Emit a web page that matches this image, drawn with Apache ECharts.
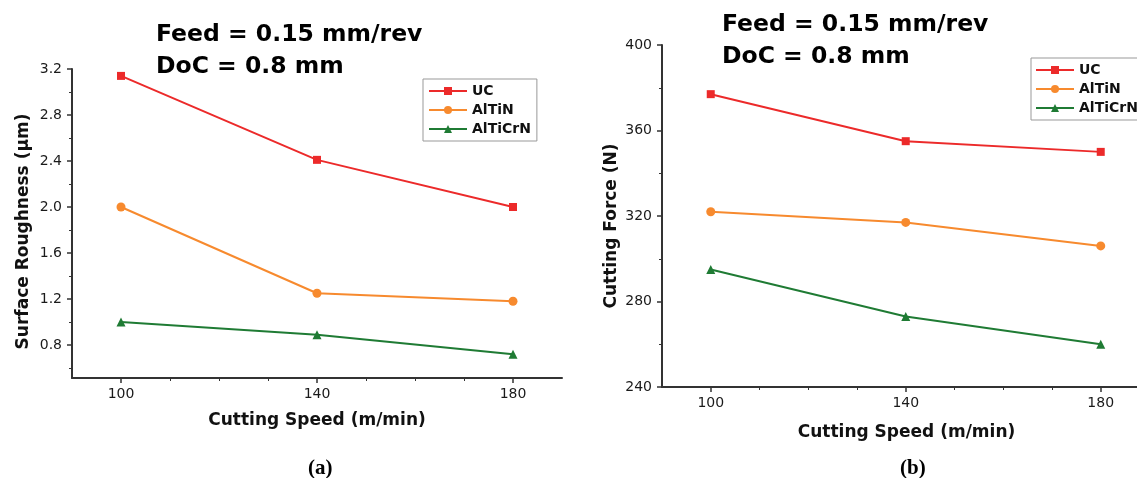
<!DOCTYPE html>
<html>
<head>
<meta charset="utf-8">
<script src="https://cdn.jsdelivr.net/npm/echarts@6/dist/echarts.min.js"></script>
<style>
html,body{margin:0;padding:0;background:#fff;overflow:hidden;}
#c{width:1137px;height:478px;}
</style>
</head>
<body>
<div id="c"></div>
<script>
// ---- data ----
const speeds = [100, 140, 180];
const seriesNames = ['UC', 'AlTiN', 'AlTiCrN'];
const raUC = [3.14, 2.41, 2.00];
const raAlTiN = [2.00, 1.25, 1.18];
const raAlTiCrN = [1.00, 0.89, 0.72];
const forceUC = [377, 355, 350];
const forceAlTiN = [322, 317, 306];
const forceAlTiCrN = [295, 273, 260];
const xMajorTicks = [100, 140, 180];
const xMinorTicks = [110, 120, 130, 150, 160, 170];
const raMajorTicks = [0.8, 1.2, 1.6, 2.0, 2.4, 2.8, 3.2];
const raMinorTicks = [0.6, 1.0, 1.4, 1.8, 2.2, 2.6, 3.0];
const forceMajorTicks = [240, 280, 320, 360, 400];
const forceMinorTicks = [260, 300, 340, 380];

const colors = ['#ec2a2a', '#f78a2e', '#1f7b34'];
const symbols = ['rect', 'circle', 'triangle'];
const symbolSizes = [8, 9, 9];

const AX = '#333333';
const labelFont = {fontFamily: 'DejaVu Sans', fontSize: 14, color: '#1a1a1a'};
const nameFont = {fontFamily: 'DejaVu Sans', fontWeight: 'bold', fontSize: 17, color: '#111'};

function pairs(vals){ return speeds.map((s,i)=>[s, vals[i]]); }

function xAxes(gridIndex, max, nameShift){
  return [
    {type:'value', gridIndex, min:90, max,
     axisLine:{show:true, lineStyle:{color:AX, width:2}},
     axisTick:{show:true, customValues:xMajorTicks, length:5, lineStyle:{color:AX, width:1.5}},
     axisLabel:{customValues:xMajorTicks, margin:9, ...labelFont},
     splitLine:{show:false},
     name:'Cutting Speed (m/min)', nameLocation:'middle', nameGap: gridIndex===0 ? 34 : 37,
     nameTextStyle:Object.assign({}, nameFont, {padding:[0, 0, 0, nameShift]})},
    {type:'value', gridIndex, min:90, max, position:'bottom',
     axisLine:{show:false},
     axisTick:{show:true, customValues:xMinorTicks, length:3, lineStyle:{color:AX, width:1}},
     axisLabel:{show:false}, splitLine:{show:false}}
  ];
}
function yAxes(gridIndex, min, max, major, minor, name, gap, shift){
  return [
    {type:'value', gridIndex, min, max,
     axisLine:{show:true, lineStyle:{color:AX, width:2}},
     axisTick:{show:true, customValues:major, length:5, lineStyle:{color:AX, width:1.5}},
     axisLabel:{customValues:major, margin:10, formatter:(v)=> (max<10 ? v.toFixed(1) : String(v)), ...labelFont},
     splitLine:{show:false},
     name, nameLocation:'middle', nameGap:gap,
     nameTextStyle:Object.assign({}, nameFont, {padding:[0, shift, 0, 0]})},
    {type:'value', gridIndex, min, max, position:'left',
     axisLine:{show:false},
     axisTick:{show:true, customValues:minor, length:3, lineStyle:{color:AX, width:1}},
     axisLabel:{show:false}, splitLine:{show:false}}
  ];
}

const raSets = [raUC, raAlTiN, raAlTiCrN];
const forceSets = [forceUC, forceAlTiN, forceAlTiCrN];
const series = [];
seriesNames.forEach((n,i)=>{
  series.push({name:n, type:'line', xAxisIndex:0, yAxisIndex:0, data:pairs(raSets[i]),
    symbol:symbols[i], symbolSize:symbolSizes[i], showSymbol:true,
    itemStyle:{color:colors[i]}, lineStyle:{color:colors[i], width:2}, z:3});
});
seriesNames.forEach((n,i)=>{
  series.push({name:n, type:'line', xAxisIndex:2, yAxisIndex:2, data:pairs(forceSets[i]),
    symbol:symbols[i], symbolSize:symbolSizes[i], showSymbol:true,
    itemStyle:{color:colors[i]}, lineStyle:{color:colors[i], width:2}, z:3});
});

const legendBase = {
  orient:'vertical', data:seriesNames, itemWidth:38, itemHeight:10, itemGap:5,
  borderColor:'#999', borderWidth:1, backgroundColor:'#fff',
  textStyle:{fontFamily:'DejaVu Sans', fontWeight:'bold', fontSize:14, color:'#111'},
  selectedMode:false
};

const option = {
  animation:false,
  backgroundColor:'#fff',
  title:[
    {text:'Feed = 0.15 mm/rev\nDoC = 0.8 mm', left:151, top:14,
     textStyle:{fontFamily:'DejaVu Sans', fontWeight:'bold', fontSize:23.5, lineHeight:32, color:'#000'}},
    {text:'Feed = 0.15 mm/rev\nDoC = 0.8 mm', left:717, top:4,
     textStyle:{fontFamily:'DejaVu Sans', fontWeight:'bold', fontSize:23.5, lineHeight:32, color:'#000'}},
    {text:'(a)', left:303, top:453, textStyle:{fontFamily:'Liberation Serif', fontWeight:'bold', fontSize:21, color:'#000'}},
    {text:'(b)', left:895, top:453, textStyle:{fontFamily:'Liberation Serif', fontWeight:'bold', fontSize:21, color:'#000'}}
  ],
  legend:[
    Object.assign({}, legendBase, {left:423, top:79, padding:[5,6,5,5]}),
    Object.assign({}, legendBase, {left:1031, top:58, padding:[5,8,5,4]})
  ],
  grid:[
    {left:72, top:69, width:490, height:309, containLabel:false},
    {left:662, top:45, right:0, height:342, containLabel:false}
  ],
  xAxis:[...xAxes(0, 190, 0), ...xAxes(1, 187.44, 14)],
  yAxis:[
    ...yAxes(0, 0.513, 3.2, raMajorTicks, raMinorTicks, 'Surface Roughness (μm)', 40, 16),
    ...yAxes(1, 240, 400, forceMajorTicks, forceMinorTicks, 'Cutting Force (N)', 42, 20)
  ],
  series
};

const chart = echarts.init(document.getElementById('c'), null, {renderer:'canvas'});
chart.setOption(option);
</script>
</body>
</html>
